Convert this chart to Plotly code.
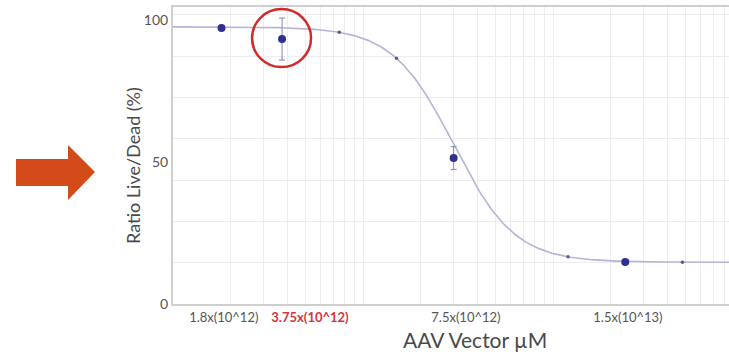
import numpy as np
import plotly.graph_objects as go

# ---- data ----
conc = [1.8e12, 3.75e12, 3.0e13, 2.4e14]          # x of measured points
ratio = [97.2, 93.3, 51.4, 14.8]                   # Ratio Live/Dead (%)
err = [0.6, 7.4, 4.0, 0.6]                         # error bar half-widths

# fitted 4PL curve parameters
fit_top = 97.6
fit_bottom = 14.7
fit_ic50 = 3.0e13
fit_hill = 2.7
fit_marks = [7.5e12, 1.5e13, 1.2e14, 4.8e14]       # small marks along fit line

tick_labels = ["1.8x(10^12)",
               "<b><span style='color:#d8343c'>3.75x(10^12)</span></b>",
               "7.5x(10^12)", "1.5x(10^13)"]
tick_vals = [1.85e12, 5.26e12, 3.48e13, 2.48e14]

y_tick_vals = [0, 50, 100]

# ---- layout constants ----
W, H = 729, 354
ML, MR, MT, MB = 173, 0, 7, 50
XR = [12.0, 12.0 + (W - ML - MR) / 190.0]
YR = [0, 104.6]
pw, ph = W - ML - MR, H - MT - MB


def px2paper(px, py):
    return (px - ML) / pw, (H - MB - py) / ph


def fit(x):
    x = np.asarray(x)
    return fit_bottom + (fit_top - fit_bottom) / (1 + (x / fit_ic50) ** fit_hill)


xc = np.logspace(XR[0], XR[1], 400)

fig = go.Figure()
fig.add_trace(go.Scatter(x=xc, y=fit(xc), mode="lines",
                         line=dict(color="#b4b4da", width=1.6),
                         hoverinfo="skip", showlegend=False))
fig.add_trace(go.Scatter(x=fit_marks, y=fit(fit_marks), mode="markers",
                         marker=dict(color="#5a5a8c", size=3.5),
                         showlegend=False))
fig.add_trace(go.Scatter(x=conc, y=ratio, mode="markers",
                         marker=dict(color="#2e3190", size=8),
                         error_y=dict(type="data", array=err, color="#8484bf",
                                      thickness=1, width=3),
                         showlegend=False))

fig.update_xaxes(type="log", range=XR, tickmode="array", tickvals=tick_vals,
                 ticktext=tick_labels, showgrid=False, zeroline=False,
                 showline=True, linecolor="#cfcfcf", linewidth=2, mirror=True,
                 ticks="", tickfont=dict(family="Lato", size=13, color="#555555"),
                 minor=dict(tickmode="linear", dtick="D1", showgrid=True,
                            gridcolor="#ededf1", gridwidth=1, ticks=""))
fig.update_yaxes(range=YR, tickmode="array", tickvals=y_tick_vals,
                 showgrid=False, zeroline=False, showline=True,
                 linecolor="#cfcfcf", linewidth=2, ticks="",
                 tickfont=dict(family="Lato", size=14, color="#555555"),
                 minor=dict(tickmode="linear", tick0=0, dtick=14.55,
                            showgrid=True, gridcolor="#ededf1", gridwidth=1,
                            ticks=""))

# x and y titles
ax_, ay_ = px2paper(475, 340)
fig.add_annotation(text="AAV Vector µM", xref="paper", yref="paper", x=ax_, y=ay_,
                   xanchor="center", yanchor="middle", showarrow=False,
                   font=dict(family="Lato", size=21, color="#4a4a4a"))
tx, ty = px2paper(133, 166)
fig.add_annotation(text="Ratio Live/Dead (%)", xref="paper", yref="paper", x=tx, y=ty,
                   xanchor="center", yanchor="middle", showarrow=False, textangle=-90,
                   font=dict(family="Lato", size=18, color="#4a4a4a"))

# red highlight circle around second point
cx_paper = (np.log10(conc[1]) - XR[0]) / (XR[1] - XR[0])
fig.add_shape(type="circle", xref="paper", yref="y", xsizemode="pixel", ysizemode="pixel",
              xanchor=cx_paper, yanchor=ratio[1],
              x0=-30, x1=29, y0=-28, y1=30,
              line=dict(color="#d02a2a", width=2.5))

# orange arrow on the left
pts = [(16, 159), (68, 159), (68, 145), (95, 172), (68, 200), (68, 186), (16, 186)]
path = ""
for i, (a, b) in enumerate(pts):
    u, v = px2paper(a, b)
    path += ("M" if i == 0 else "L") + f"{u:.4f},{v:.4f} "
path += "Z"
fig.add_shape(type="path", xref="paper", yref="paper", path=path,
              fillcolor="#d24b19", line=dict(width=0))

fig.update_layout(width=W, height=H, margin=dict(l=ML, r=MR, t=MT, b=MB),
                  plot_bgcolor="white", paper_bgcolor="white",
                  font=dict(family="Lato"))
fig.write_html("out.html")
